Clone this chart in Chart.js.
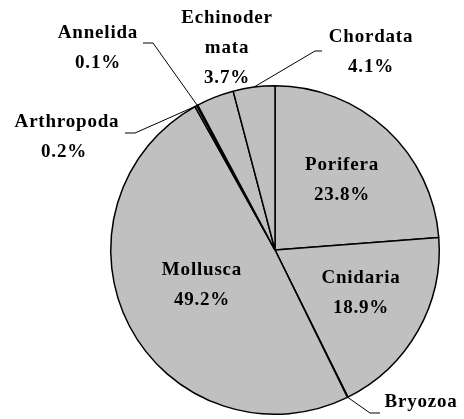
<!DOCTYPE html>
<html lang="en">
<head>
<meta charset="UTF-8">
<title>Phyla share pie</title>
<style>
html, body { margin: 0; padding: 0; background: #fff; }
#wrap { width: 464px; height: 419px; }
</style>
</head>
<body>
<div id="wrap"><canvas id="pieChart" width="464" height="419"></canvas></div>
<script src="https://cdn.jsdelivr.net/npm/chart.js"></script>
<script>
// Phyla, clockwise from 12 o'clock
const phyla = ["Porifera", "Cnidaria", "Bryozoa", "Mollusca", "Arthropoda", "Annelida", "Echinodermata", "Chordata"];
const shares = [23.8, 18.9, 0.05, 49.2, 0.2, 0.1, 3.7, 4.1];
// text lines as printed (Bryozoa has no percentage shown)
const labelLines = [["Porifera"], ["Cnidaria"], ["Bryozoa"], ["Mollusca"], ["Arthropoda"], ["Annelida"], ["Echinoder", "mata"], ["Chordata"]];
const showPct = [true, true, false, true, true, true, true, true];

// where each label sits, relative to the pie centre; leader = elbow points
const labelLayout = {
  Porifera:      { x: 67, y: -85 },
  Cnidaria:      { x: 86, y: 28 },
  Bryozoa:       { x: 146, y: 152, leader: [[95, 163], [105, 163]] },
  Mollusca:      { x: -73, y: 20 },
  Arthropoda:    { x: -208, y: -128, pctDx: -3, leader: [[-140, -117], [-150, -117]] },
  Annelida:      { x: -177, y: -217, leader: [[-122, -207], [-132, -207]] },
  Echinodermata: { x: -48, y: -232 },
  Chordata:      { x: 96, y: -213, leader: [[40, -199], [47, -199]] }
};

const labelPlugin = {
  id: 'pieLabels',
  afterDraw(chart) {
    const ctx = chart.ctx;
    const meta = chart.getDatasetMeta(0);
    ctx.save();
    ctx.font = 'bold 19px "Liberation Serif", "DejaVu Serif", serif';
    ctx.letterSpacing = '0.8px';
    ctx.textAlign = 'center';
    ctx.textBaseline = 'middle';
    ctx.fillStyle = '#000';
    ctx.strokeStyle = '#000';
    ctx.lineWidth = 1;
    meta.data.forEach((arc, i) => {
      const name = phyla[i];
      const lay = labelLayout[name];
      const cx = arc.x, cy = arc.y;
      const mid = (arc.startAngle + arc.endAngle) / 2;
      if (lay.leader) {
        const ex = cx + Math.cos(mid) * arc.outerRadius;
        const ey = cy + Math.sin(mid) * arc.outerRadius;
        ctx.beginPath();
        ctx.moveTo(ex, ey);
        lay.leader.forEach(p => ctx.lineTo(cx + p[0], cy + p[1]));
        ctx.stroke();
      }
      const lines = labelLines[i].slice();
      if (showPct[i]) lines.push(shares[i].toFixed(1) + '%');
      lines.forEach((t, k) => {
        let dx = 0;
        if (lay.pctDx && k === lines.length - 1) dx = lay.pctDx;
        ctx.fillText(t, cx + lay.x + dx, cy + lay.y + k * 30);
      });
    });
    ctx.restore();
  }
};

new Chart(document.getElementById('pieChart'), {
  type: 'pie',
  data: {
    labels: phyla,
    datasets: [{
      data: shares,
      backgroundColor: '#c0c0c0',
      borderColor: '#000',
      borderWidth: 1.5,
      hoverOffset: 0
    }]
  },
  options: {
    responsive: false,
    animation: false,
    events: [],
    layout: { padding: { left: 110, right: 24, top: 85, bottom: 4 } },
    plugins: { legend: { display: false }, tooltip: { enabled: false } }
  },
  plugins: [labelPlugin]
});
</script>
</body>
</html>
